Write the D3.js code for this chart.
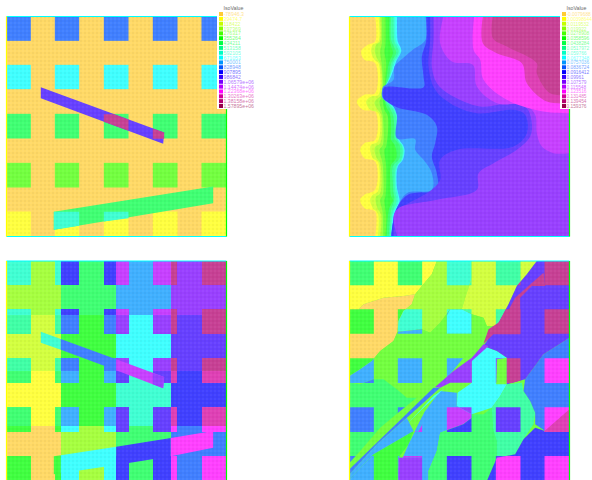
<!DOCTYPE html>
<html>
<head>
<meta charset="utf-8">
<script src="https://d3js.org/d3.v7.min.js"></script>
<style>
html, body { margin: 0; padding: 0; background: #fff; overflow: hidden; }
text { font-family: "Liberation Sans", Arial, sans-serif; }
</style>
</head>
<body>
<div id="chart"></div>
<script>
// iso classes, shared by all four panels
const classColors = ["#ffcc33", "#ffff00", "#c4ff00", "#88ff00", "#44ff00", "#00ff00", "#00ff44",
    "#00ff88", "#00ffc4", "#00ffff", "#0096ff", "#0055ff", "#0000ff", "#3300ff", "#7700ff",
    "#b400ff", "#ff00ff", "#d4009c", "#b40070", "#96004a"];

const legendLeft = ["-78946.3", "39474.7", "118422", "197369", "276317", "355264", "434211", "513158",
    "592105", "671053", "750001", "828948", "907895", "986842", "1.06579e+06", "1.14474e+06",
    "1.22368e+06", "1.30263e+06", "1.38158e+06", "1.57895e+06"];
const legendRight = ["-0.0079688", "0.00398644", "0.0119532", "0.019922", "0.0278908", "0.0358596",
    "0.0438284", "0.0517972", "0.059766", "0.0677348", "0.0757036", "0.0836724", "0.0916412", "0.09961",
    "0.107579", "0.115548", "0.123516", "0.131485", "0.139454", "0.159376"];

// mesh coordinates run 0..660 in both directions
const blockCols = [[0, 73], [145, 218], [292, 366], [439, 513], [585, 660]];
const blockRows = [[0, 73], [145, 218], [292, 366], [439, 513], [585, 660]];

// panel 1 : blocks on a constant field, plus two slanted strips
const p1RowClass = [11, 9, 6, 4, 1];
const p1Strips = [
    {c: 13, pts: [[103, 212], [103, 245], [470, 382], [473, 348]]},
    {c: 18, pts: [[292, 293], [323, 293], [366, 309], [366, 343], [292, 316]]},
    {c: 18, pts: [[439, 336], [473, 348], [473, 367], [439, 367]]},
    {c: 6, pts: [[142, 586], [620, 510], [620, 560], [142, 640]]},
    {c: 8, pts: [[142, 586], [218, 586], [218, 628], [142, 640]]},
    {c: 8, pts: [[292, 586], [366, 586], [366, 605], [292, 615]]}
];

// panel 2 : nested iso regions, painted from the lowest class up
const p2Levels = [
    {c: 1, pts: [[77, 0], [77, 75], [55, 85], [35, 105], [45, 130], [77, 140], [77, 230], [45, 235], [22, 255], [40, 280], [77, 285], [77, 370], [45, 380], [32, 400], [45, 425], [77, 435], [77, 520], [45, 535], [32, 550], [45, 575], [77, 585], [77, 660]]},
    {c: 2, pts: [[87, 0], [87, 75], [70, 85], [65, 105], [75, 130], [87, 140], [87, 235], [65, 240], [50, 255], [62, 280], [87, 290], [85, 375], [65, 385], [62, 400], [70, 425], [85, 435], [85, 525], [70, 535], [62, 550], [70, 575], [85, 590], [85, 660]]},
    {c: 3, pts: [[92, 0], [92, 75], [80, 85], [76, 105], [85, 130], [93, 145], [95, 235], [80, 250], [75, 260], [85, 280], [95, 295], [92, 380], [78, 390], [75, 400], [82, 425], [92, 440], [92, 530], [80, 540], [78, 550], [84, 575], [95, 595], [92, 660]]},
    {c: 4, pts: [[97, 0], [97, 80], [92, 105], [97, 145], [100, 200], [97, 240], [90, 255], [97, 285], [100, 300], [100, 385], [90, 400], [97, 430], [100, 450], [100, 535], [92, 550], [98, 580], [100, 600], [100, 660]]},
    {c: 5, pts: [[108, 0], [108, 85], [105, 105], [110, 140], [108, 180], [105, 230], [100, 250], [105, 280], [115, 300], [110, 390], [105, 400], [110, 450], [108, 540], [105, 550], [110, 600], [108, 660]]},
    {c: 6, pts: [[120, 0], [120, 70], [125, 90], [130, 110], [118, 140], [112, 180], [105, 220], [104, 245], [110, 270], [122, 295], [125, 340], [125, 370], [135, 385], [140, 400], [140, 425], [125, 445], [122, 500], [125, 540], [130, 550], [118, 580], [112, 660]]},
    {c: 7, pts: [[125, 0], [125, 70], [133, 90], [140, 108], [125, 140], [120, 170], [110, 210], [107, 235], [108, 255], [118, 270], [130, 295], [135, 340], [135, 365], [150, 385], [152, 405], [150, 425], [130, 450], [130, 500], [132, 530], [135, 545], [125, 580], [118, 660]]},
    {c: 8, pts: [[132, 0], [135, 75], [142, 90], [148, 105], [130, 140], [125, 165], [112, 205], [104, 225], [104, 245], [125, 270], [140, 300], [142, 365], [155, 385], [160, 400], [155, 430], [140, 450], [136, 510], [140, 540], [140, 560], [128, 590], [124, 660]]},
    {c: 9, pts: [[138, 0], [140, 75], [148, 90], [153, 105], [135, 140], [127, 165], [115, 195], [105, 212], [100, 220], [100, 245], [125, 265], [143, 295], [145, 365], [158, 385], [163, 400], [158, 430], [143, 450], [140, 510], [145, 535], [147, 555], [130, 595], [127, 660]]},
    {c: 10, pts: [[143, 0], [145, 75], [154, 95], [155, 105], [140, 135], [132, 160], [120, 190], [110, 205], [103, 212], [98, 225], [98, 240], [125, 262], [145, 293], [147, 365], [160, 385], [165, 400], [160, 430], [145, 450], [142, 510], [147, 535], [150, 555], [135, 590], [127, 660]]},
    {c: 11, pts: [[228, 0], [228, 70], [190, 100], [160, 125], [135, 150], [132, 190], [110, 205], [100, 212], [100, 245], [125, 262], [142, 295], [142, 365], [197, 368], [197, 400], [222, 430], [247, 470], [247, 520], [172, 530], [140, 580], [132, 610], [125, 660]]},
    {c: 12, pts: [[230, 0], [230, 75], [217, 120], [222, 180], [222, 212], [105, 212], [100, 225], [102, 245], [142, 272], [232, 295], [262, 330], [257, 380], [247, 420], [262, 470], [262, 520], [175, 535], [140, 580], [125, 660]]},
    {c: 13, pts: [[242, 0], [242, 70], [237, 150], [257, 220], [302, 260], [382, 290], [492, 280], [527, 295], [532, 350], [492, 390], [322, 400], [272, 430], [272, 490], [247, 520], [152, 575], [137, 590], [132, 660]]},
    {c: 14, pts: [[252, 0], [252, 70], [247, 150], [262, 200], [302, 235], [392, 270], [492, 260], [532, 275], [547, 320], [542, 360], [502, 400], [432, 440], [387, 470], [382, 520], [262, 550], [147, 575], [132, 600], [144, 660]]},
    {c: 15, pts: [[282, 0], [272, 80], [307, 135], [370, 145], [382, 210], [442, 260], [527, 265], [557, 295], [562, 350], [577, 390], [612, 410], [660, 410]]},
    {c: 16, pts: [[374, 0], [372, 100], [392, 130], [402, 190], [472, 250], [582, 285], [660, 290]]},
    {c: 17, pts: [[400, 0], [400, 80], [442, 110], [517, 140], [532, 200], [592, 255], [660, 260]]},
    {c: 18, pts: [[430, 0], [430, 65], [472, 90], [562, 140], [562, 170], [602, 230], [660, 235]]}
];

// panel 3 : classes on a grid of cell breaks
const p3XBreaks = [0, 73, 145, 163, 218, 292, 329, 366, 439, 493, 513, 585, 660];
const p3YBreaks = [0, 73, 145, 163, 218, 292, 330, 366, 439, 495, 513, 585, 660];
const p3Cells = [
    [8, 3, 8, 12, 6, 12, 15, 10, 15, 18, 14, 18],
    [3, 3, 3, 6, 6, 6, 10, 10, 10, 14, 14, 14],
    [8, 3, 8, 12, 6, 12, 15, 10, 15, 18, 14, 18],
    [7, 2, 7, 11, 5, 11, 14, 9, 14, 18, 13, 18],
    [2, 2, 2, 5, 5, 5, 9, 9, 9, 13, 13, 13],
    [7, 2, 7, 11, 5, 11, 14, 9, 14, 18, 13, 18],
    [6, 1, 6, 10, 5, 10, 13, 8, 13, 17, 12, 17],
    [1, 1, 1, 5, 5, 5, 8, 8, 8, 12, 12, 12],
    [6, 1, 6, 10, 5, 10, 13, 8, 13, 17, 12, 17],
    [5, 0, 5, 9, 3, 9, 13, 6, 13, 16, 11, 16],
    [0, 0, 0, 3, 3, 3, 6, 6, 6, 11, 11, 11],
    [5, 0, 5, 9, 3, 9, 12, 6, 12, 16, 11, 16]
];
const p3Strips = [
    {c: 8, pts: [[103, 212], [163, 234], [163, 266], [103, 245]]},
    {c: 11, pts: [[163, 234], [329, 295], [329, 328], [163, 266]]},
    {c: 15, pts: [[329, 295], [473, 348], [470, 382], [329, 328]]},
    {c: 14, pts: [[439, 337], [473, 348], [470, 382], [439, 370]]},
    {c: 5, pts: [[142, 586], [163, 583], [163, 637], [142, 640]]},
    {c: 9, pts: [[163, 583], [329, 557], [329, 612], [163, 637]]},
    {c: 12, pts: [[329, 557], [493, 531], [493, 586], [329, 612]]},
    {c: 16, pts: [[493, 531], [620, 510], [620, 560], [493, 586]]}
];

// panel 4 : irregular zones, each with one class between blocks and one on the blocks
const p4Zones = [
    {gap: 1, block: 6, pts: [[0, 0], [262, 0], [247, 40], [217, 75], [197, 100], [162, 105], [102, 110], [42, 130], [27, 145], [0, 145]]},
    {gap: 0, block: 5, pts: [[0, 145], [27, 145], [42, 130], [102, 110], [162, 105], [197, 100], [187, 130], [162, 150], [147, 180], [144, 212], [132, 240], [92, 270], [67, 300], [32, 325], [0, 345]]},
    {gap: 3, block: 8, pts: [[262, 0], [367, 0], [367, 50], [347, 110], [337, 145], [302, 145], [272, 185], [242, 215], [217, 205], [144, 212], [147, 180], [162, 150], [187, 130], [197, 100], [217, 75], [247, 40]]},
    {gap: 2, block: 7, pts: [[367, 0], [562, 0], [532, 40], [502, 75], [477, 130], [442, 195], [412, 195], [402, 170], [367, 160], [337, 145], [347, 110], [367, 50]]},
    {gap: 4, block: 10, pts: [[144, 212], [217, 205], [242, 215], [272, 185], [302, 145], [337, 145], [367, 160], [402, 170], [412, 195], [442, 195], [402, 245], [342, 290], [302, 340], [272, 365], [252, 380], [202, 410], [172, 410], [142, 385], [102, 355], [72, 355], [32, 370], [0, 365], [0, 345], [32, 325], [67, 300], [92, 270], [132, 240]]},
    {gap: 4, block: 9, pts: [[292, 165], [302, 145], [337, 145], [366, 160], [366, 218], [292, 218]]},
    {gap: 6, block: 11, pts: [[0, 365], [32, 370], [72, 355], [102, 355], [142, 385], [172, 410], [202, 410], [152, 450], [92, 500], [32, 570], [0, 605]]},
    {gap: 5, block: 10, pts: [[0, 655], [72, 580], [192, 510], [177, 550], [147, 590], [144, 660], [0, 660]]},
    {gap: 10, block: 15, pts: [[272, 390], [322, 395], [322, 435], [367, 445], [367, 470], [342, 490], [272, 515], [262, 570], [237, 630], [237, 660], [147, 660], [147, 620], [177, 550], [197, 510], [227, 450]]},
    {gap: 10, block: 14, pts: [[147, 590], [220, 590], [220, 660], [147, 660]]},
    {gap: 10, block: 10, pts: [[197, 510], [227, 450], [227, 475], [205, 513]]},
    {gap: 9, block: 14, pts: [[367, 290], [402, 255], [442, 270], [472, 290], [442, 295], [440, 370], [472, 370], [452, 405], [427, 440], [367, 460], [322, 435], [324, 395], [367, 365]]},
    {gap: 7, block: 13, pts: [[427, 440], [452, 405], [472, 370], [517, 365], [522, 390], [542, 420], [557, 455], [552, 490], [522, 535], [497, 580], [442, 590], [430, 540]]},
    {gap: 6, block: 12, pts: [[272, 515], [342, 490], [367, 470], [367, 460], [402, 460], [427, 440], [430, 500], [442, 540], [442, 590], [412, 660], [237, 660], [237, 630], [262, 570]]},
    {gap: 12, block: 16, pts: [[497, 580], [522, 535], [557, 500], [587, 510], [660, 510], [660, 660], [412, 660], [442, 590]]},
    {gap: 11, block: 16, pts: [[527, 355], [582, 280], [660, 230], [660, 510], [587, 510], [557, 490], [557, 455], [542, 420], [522, 390]]},
    {gap: 13, block: 18, pts: [[562, 0], [660, 0], [660, 230], [582, 280], [527, 355], [472, 370], [472, 290], [442, 270], [402, 255], [442, 195], [477, 130], [502, 75], [532, 40]]}
];
const p4Strips = [
    {c: 18, pts: [[402, 248], [417, 205], [462, 175], [497, 110], [582, 35], [587, 75], [547, 75], [512, 110], [512, 220], [432, 220]]},
    {c: 14, pts: [[257, 378], [312, 330], [367, 290], [402, 250], [417, 255], [367, 300], [367, 365], [302, 365], [272, 380]]},
    {c: 9, pts: [[172, 490], [252, 405], [282, 385], [222, 440]]},
    {c: 11, pts: [[0, 625], [252, 380], [272, 380], [172, 470], [82, 550], [0, 640]]},
    {c: 10, pts: [[0, 640], [82, 550], [172, 470], [192, 510], [72, 580], [0, 655]]},
    {c: 17, pts: [[585, 510], [660, 445], [660, 513], [585, 513]]}
];

const panelSize = 220;
const margin = {left: 6.5, top: 16.5, columnGap: 343, rowGap: 244.5};

let svg = d3.select("#chart").append("svg")
    .attr("width", 592)
    .attr("height", 480);

let defs = svg.append("defs");

//the faint dotted look the mesh leaves on every filled region
let dots = defs.append("pattern")
    .attr("id", "meshDots")
    .attr("width", 4)
    .attr("height", 4)
    .attr("patternUnits", "userSpaceOnUse");
dots.append("circle").attr("cx", 1).attr("cy", 1).attr("r", 0.9).attr("fill", "#000").attr("opacity", 0.045);
dots.append("circle").attr("cx", 3).attr("cy", 3).attr("r", 0.9).attr("fill", "#fff").attr("opacity", 0.06);

let color = i => classColors[i];

function addPanel(column, row, draw) {
    let x0 = margin.left + column * margin.columnGap;
    let y0 = margin.top + row * margin.rowGap;
    let x = d3.scaleLinear().domain([0, 660]).range([x0, x0 + panelSize]);
    let y = d3.scaleLinear().domain([0, 660]).range([y0, y0 + panelSize]);
    let id = "panel" + column + row;

    defs.append("clipPath").attr("id", id)
        .append("rect").attr("x", x0).attr("y", y0).attr("width", panelSize).attr("height", panelSize);

    let g = svg.append("g").attr("clip-path", "url(#" + id + ")");
    let fills = g.append("g").attr("opacity", 0.75);
    draw(fills, x, y, id);

    g.append("rect")
        .attr("x", x0).attr("y", y0).attr("width", panelSize).attr("height", panelSize)
        .attr("fill", "url(#meshDots)");

    //edges of the mesh take the class of the border cells
    let edges = [
        {c: 9, a: [0, 0], b: [660, 0]},
        {c: 9, a: [0, 660], b: [660, 660]},
        {c: 1, a: [0, 0], b: [0, 660]},
        {c: 5, a: [660, 0], b: [660, 660]}
    ];
    svg.selectAll(null).data(edges).enter().append("line")
        .attr("x1", d => x(d.a[0])).attr("y1", d => y(d.a[1]))
        .attr("x2", d => x(d.b[0])).attr("y2", d => y(d.b[1]))
        .attr("stroke", d => color(d.c))
        .attr("stroke-width", 1.2);
}

function polygons(g, list, x, y) {
    let line = d3.line().x(d => x(d[0])).y(d => y(d[1])).curve(d3.curveLinearClosed);
    g.selectAll(null).data(list).enter().append("path")
        .attr("d", d => line(d.pts))
        .attr("fill", d => color(d.c));
}

function blockPath(x, y) {
    let p = d3.path();
    blockRows.forEach(r => blockCols.forEach(c => {
        p.rect(x(c[0]), y(r[0]), x(c[1]) - x(c[0]), y(r[1]) - y(r[0]));
    }));
    return p.toString();
}

//panel 1
addPanel(0, 0, (g, x, y) => {
    g.append("rect").attr("x", x(0)).attr("y", y(0)).attr("width", panelSize).attr("height", panelSize)
        .attr("fill", color(0));
    blockRows.forEach((r, i) => {
        g.selectAll(null).data(blockCols).enter().append("rect")
            .attr("x", d => x(d[0])).attr("y", y(r[0]))
            .attr("width", d => x(d[1]) - x(d[0])).attr("height", y(r[1]) - y(r[0]))
            .attr("fill", color(p1RowClass[i]));
    });
    polygons(g, p1Strips, x, y);
});

//panel 2
addPanel(1, 0, (g, x, y) => {
    g.append("rect").attr("x", x(0)).attr("y", y(0)).attr("width", panelSize).attr("height", panelSize)
        .attr("fill", color(0));
    let area = d3.line().x(d => x(d[0])).y(d => y(d[1])).curve(d3.curveCatmullRom.alpha(0.5));
    p2Levels.forEach(level => {
        //run the open boundary on round the right hand side of the mesh
        let last = level.pts[level.pts.length - 1];
        let d = area(level.pts) + "L" + x(last[0]) + "," + y(700) + "L" + x(700) + "," + y(700)
            + "L" + x(700) + "," + y(-40) + "L" + x(level.pts[0][0]) + "," + y(-40) + "Z";
        g.append("path").attr("d", d).attr("fill", color(level.c));
    });
});

//panel 3
addPanel(0, 1, (g, x, y) => {
    p3Cells.forEach((row, j) => {
        g.selectAll(null).data(row).enter().append("rect")
            .attr("x", (d, i) => Math.round(x(p3XBreaks[i])))
            .attr("y", Math.round(y(p3YBreaks[j])))
            .attr("width", (d, i) => Math.round(x(p3XBreaks[i + 1])) - Math.round(x(p3XBreaks[i])))
            .attr("height", Math.round(y(p3YBreaks[j + 1])) - Math.round(y(p3YBreaks[j])))
            .attr("shape-rendering", "crispEdges")
            .attr("fill", d => color(d));
    });
    polygons(g, p3Strips, x, y);
});

//panel 4
addPanel(1, 1, (g, x, y, id) => {
    let line = d3.line().x(d => x(d[0])).y(d => y(d[1])).curve(d3.curveLinearClosed);
    g.append("rect").attr("x", x(0)).attr("y", y(0)).attr("width", panelSize).attr("height", panelSize)
        .attr("fill", color(4));
    p4Zones.forEach((zone, i) => {
        let zoneId = id + "zone" + i;
        defs.append("clipPath").attr("id", zoneId).append("path").attr("d", line(zone.pts));
        g.append("path").attr("d", line(zone.pts)).attr("fill", color(zone.gap));
        g.append("path").attr("d", blockPath(x, y)).attr("clip-path", "url(#" + zoneId + ")")
            .attr("fill", color(zone.block));
    });
    polygons(g, p4Strips, x, y);
});

//legends, each sits on a white card over the corner of its panel
function addLegend(left, labels, cardWidth, fontSize) {
    let yPos = d3.scalePoint().domain(d3.range(labels.length)).range([14, 106]);
    svg.append("rect").attr("x", left - 2).attr("y", 0).attr("width", cardWidth).attr("height", 109)
        .attr("fill", "#fff");
    svg.append("text").attr("x", left + 4.5).attr("y", 10).attr("font-size", 5.2)
        .attr("fill", "#444").attr("opacity", 0.8).text("IsoValue");
    let rows = svg.selectAll(null).data(labels).enter().append("g");
    rows.append("rect")
        .attr("x", left).attr("y", (d, i) => yPos(i) - 2)
        .attr("width", 4).attr("height", 4)
        .attr("fill", (d, i) => color(i));
    rows.append("text")
        .attr("x", left + 4.5).attr("y", (d, i) => yPos(i) + 2)
        .attr("font-size", fontSize)
        .attr("fill", (d, i) => color(i))
        .attr("opacity", 0.55)
        .text(d => d);
}
addLegend(219, legendLeft, 32, 5.2);
addLegend(562, legendRight, 30, 4.8);
</script>
</body>
</html>
